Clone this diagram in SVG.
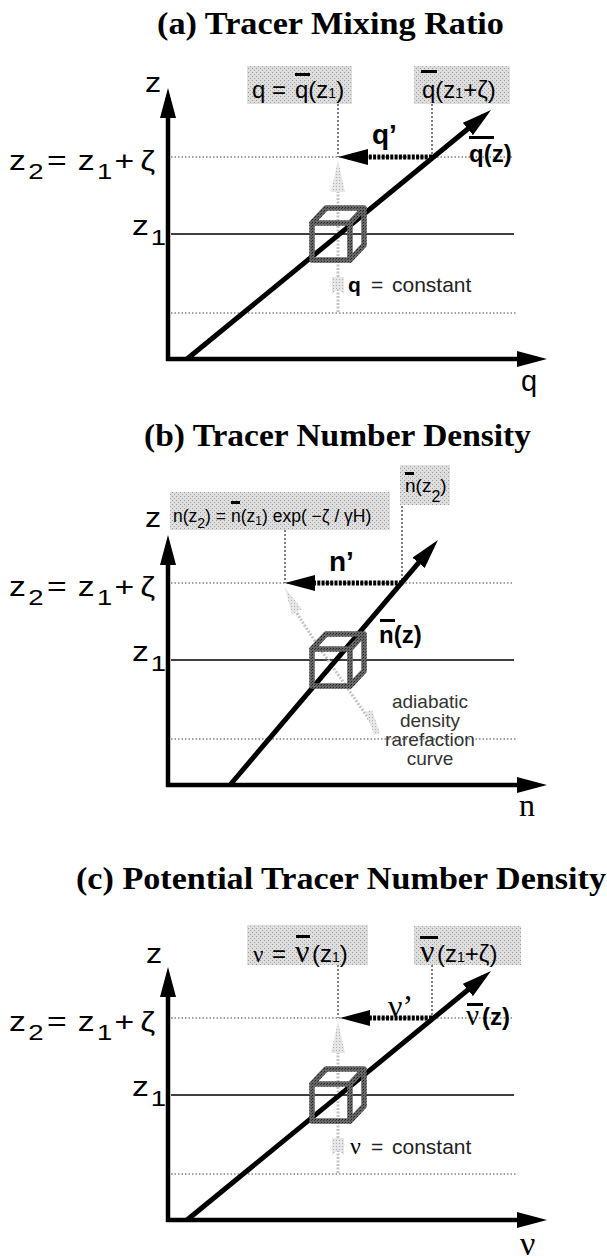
<svg xmlns="http://www.w3.org/2000/svg" width="607" height="1260" viewBox="0 0 607 1260">
<style>
.title{font-family:"Liberation Serif","Times New Roman",serif;font-weight:bold;font-size:31px;fill:#000}
.lab{font-family:"Liberation Sans",Arial,sans-serif;font-size:27px;fill:#000}
.sub{font-size:22px}
.bt{font-family:"Liberation Sans",Arial,sans-serif;font-size:24px;fill:#000}
.s14{font-size:14px}
.bts{font-family:"Liberation Sans",Arial,sans-serif;font-size:17.5px;fill:#000}
.bold{font-family:"Liberation Sans",Arial,sans-serif;font-weight:bold;fill:#000}
.gr{font-family:"Liberation Serif","Times New Roman",serif;fill:#000}
.note{font-family:"Liberation Sans",Arial,sans-serif;font-size:21px;fill:#222}
.ad{font-family:"Liberation Sans",Arial,sans-serif;font-size:19px;fill:#333;text-anchor:middle}
.box{fill:url(#stip)}
.axis{stroke:#000;stroke-width:4.5;fill:none}
.prof{stroke:#000;stroke-width:5;fill:none}
.dot{stroke:#444;stroke-width:1;stroke-dasharray:1.5 2;fill:none}
.vdot{stroke:#000;stroke-width:1;stroke-dasharray:2 2;fill:none}
.z1{stroke:#000;stroke-width:1.3}
.shaft{stroke:#000;stroke-width:5;stroke-dasharray:3 1.3;fill:none}
.cube{stroke:url(#cubeP);stroke-width:5.5;fill:none;stroke-linejoin:round;stroke-linecap:round}
.ghost{stroke:#c4c4c4;stroke-width:3;stroke-dasharray:2 1.5;fill:none}
.ghostf{fill:url(#light)}
.bar{fill:#000}
</style>
<defs>
<pattern id="stip" width="4" height="4" patternUnits="userSpaceOnUse">
<rect width="4" height="4" fill="#dedede"/>
<rect x="0" y="0" width="1" height="1" fill="#9a9a9a"/>
<rect x="2" y="2" width="1" height="1" fill="#a8a8a8"/>
</pattern>
<pattern id="light" width="3" height="3" patternUnits="userSpaceOnUse">
<rect width="3" height="3" fill="#e6e6e6"/>
<rect x="0" y="0" width="1" height="1" fill="#b0b0b0"/>
</pattern>
<pattern id="cubeP" width="3" height="3" patternUnits="userSpaceOnUse">
<rect width="3" height="3" fill="#666"/>
<rect x="0" y="0" width="1" height="1" fill="#222"/>
<rect x="2" y="1" width="1" height="1" fill="#3a3a3a"/>
</pattern>
<marker id="ah" markerUnits="userSpaceOnUse" markerWidth="30" markerHeight="16" viewBox="0 0 30 16" refX="20" refY="8" orient="auto">
<path d="M0,0 L30,8 L0,16 z" fill="#000"/>
</marker>
</defs>

<!-- ================= Panel (a) ================= -->
<g id="panel-a">
<text id="title-a" class="title" x="157" y="34" textLength="347" lengthAdjust="spacingAndGlyphs">(a) Tracer Mixing Ratio</text>
<g id="levels-a">
<line class="dot" x1="171" y1="157" x2="514" y2="157"/>
<line class="z1" x1="171" y1="234" x2="514" y2="234"/>
<line class="dot" x1="171" y1="313" x2="516" y2="313"/>
<line class="vdot" x1="338" y1="104" x2="338" y2="157"/>
<line class="vdot" x1="432" y1="104" x2="432" y2="157"/>
</g>
<g id="ghost-a">
<line class="ghost" x1="338" y1="312" x2="338" y2="178"/>
<polygon class="ghostf" points="338,160 331,192 345,192"/>
<polygon class="ghostf" points="332,277 344,277 344,294 338,289 332,294"/>
</g>
<g id="box-a1">
<rect class="box" x="247" y="66" width="105" height="38"/>
<text class="bt" y="98"><tspan x="252">q</tspan><tspan x="272">=</tspan><tspan x="295">q(z</tspan><tspan class="s14">1</tspan><tspan>)</tspan></text>
<rect class="bar" x="295" y="73" width="15" height="3"/>
</g>
<g id="box-a2">
<rect class="box" x="414" y="66" width="96" height="38"/>
<text class="bt" y="98"><tspan x="422">q(z</tspan><tspan class="s14">1</tspan><tspan>+ζ)</tspan></text>
<rect class="bar" x="421" y="70" width="16" height="3"/>
</g>
<g id="connectors-a">
<line class="axis" x1="168" y1="361" x2="168" y2="98" marker-end="url(#ah)"/>
<line class="axis" x1="166" y1="359" x2="537" y2="359" marker-end="url(#ah)"/>
<line class="prof" x1="187" y1="359" x2="483.3" y2="116.3" marker-end="url(#ah)"/>
<line class="shaft" x1="432" y1="157" x2="348" y2="157" marker-end="url(#ah)"/>
</g>
<g id="cube-a">
<path class="cube" d="M312,223 H350 V260 H312 Z M312,223 L326,208 H364 L350,223 M364,208 V245 L350,260"/>
</g>
<g id="labels-a">
<text class="lab" transform="translate(145,92) scale(1.2,1)">z</text>
<text class="lab" x="521" y="391" style="font-size:29px">q</text>
<text class="lab" transform="translate(9,170) scale(1.25,1)"><tspan x="0">z</tspan><tspan x="15.5" dy="9" class="sub">2</tspan><tspan x="30.5" dy="-9">=</tspan><tspan x="55">z</tspan><tspan x="70.5" dy="9" class="sub">1</tspan><tspan x="84.5" dy="-9">+</tspan><tspan x="105">ζ</tspan></text>
<text class="lab" transform="translate(132,235) scale(1.25,1)"><tspan x="0">z</tspan><tspan x="15" dy="10" class="sub">1</tspan></text>
<text class="bold" x="372" y="144" font-size="28">q’</text>
<text class="bold" x="469" y="162" font-size="24">q(z)</text>
<rect class="bar" x="469" y="136" width="25" height="3"/>
<text class="bold" x="348" y="292" font-size="21">q</text>
<text class="note" x="371" y="292">=</text>
<text class="note" x="392" y="292">constant</text>
</g>
</g>

<!-- ================= Panel (b) ================= -->
<g id="panel-b">
<text id="title-b" class="title" x="144" y="446" textLength="387" lengthAdjust="spacingAndGlyphs">(b) Tracer Number Density</text>
<g id="levels-b">
<line class="dot" x1="171" y1="583" x2="514" y2="583"/>
<line class="z1" x1="171" y1="660" x2="514" y2="660"/>
<line class="dot" x1="171" y1="739" x2="516" y2="739"/>
<line class="vdot" x1="285" y1="530" x2="285" y2="583"/>
<line class="vdot" x1="402" y1="466" x2="402" y2="583"/>
</g>
<g id="ghost-b">
<path class="ghost" d="M292,604 C305,630 350,690 378,733"/>
<polygon class="ghostf" points="285,588 302,609 292,615"/>
<polygon class="ghostf" points="366,712 372,710 380,733 374,735"/>
</g>
<g id="box-b1">
<rect class="box" x="170" y="492" width="220" height="38"/>
<text class="bts" y="522"><tspan x="173">n(z</tspan><tspan dy="6" style="font-size:14px">2</tspan><tspan dy="-6">) = </tspan><tspan x="231">n(z</tspan><tspan dy="3" style="font-size:12px">1</tspan><tspan dy="-3">) exp( −ζ / γH)</tspan></text>
<rect class="bar" x="231" y="501" width="9" height="3"/>
</g>
<g id="box-b2">
<rect class="box" x="400" y="465" width="50" height="40"/>
<text class="bts" y="492" style="font-size:19px"><tspan x="405">n(z</tspan><tspan dy="10" style="font-size:16px">2</tspan><tspan dy="-10">)</tspan></text>
<rect class="bar" x="405" y="472" width="9" height="3"/>
</g>
<g id="connectors-b">
<line class="axis" x1="168" y1="787" x2="168" y2="545" marker-end="url(#ah)"/>
<line class="axis" x1="166" y1="785" x2="537" y2="785" marker-end="url(#ah)"/>
<line class="prof" x1="230" y1="785" x2="431.5" y2="547.6" marker-end="url(#ah)"/>
<line class="shaft" x1="402" y1="583" x2="295" y2="583" marker-end="url(#ah)"/>
</g>
<g id="cube-b">
<path class="cube" d="M312,649 H350 V686 H312 Z M312,649 L326,634 H364 L350,649 M364,634 V671 L350,686"/>
</g>
<g id="labels-b">
<text class="lab" transform="translate(145,527) scale(1.2,1)">z</text>
<text class="gr" x="519" y="816" font-size="32">n</text>
<text class="lab" transform="translate(9,596) scale(1.25,1)"><tspan x="0">z</tspan><tspan x="15.5" dy="9" class="sub">2</tspan><tspan x="30.5" dy="-9">=</tspan><tspan x="55">z</tspan><tspan x="70.5" dy="9" class="sub">1</tspan><tspan x="84.5" dy="-9">+</tspan><tspan x="105">ζ</tspan></text>
<text class="lab" transform="translate(132,661) scale(1.25,1)"><tspan x="0">z</tspan><tspan x="15" dy="10" class="sub">1</tspan></text>
<text class="bold" x="329" y="571" font-size="28">n’</text>
<text class="bold" x="379" y="643" font-size="24">n(z)</text>
<rect class="bar" x="380" y="619" width="15" height="3"/>
<text class="ad" x="430" y="708">adiabatic</text>
<text class="ad" x="430" y="727">density</text>
<text class="ad" x="430" y="746">rarefaction</text>
<text class="ad" x="430" y="765">curve</text>
</g>
</g>

<!-- ================= Panel (c) ================= -->
<g id="panel-c">
<text id="title-c" class="title" x="76" y="889" textLength="530" lengthAdjust="spacingAndGlyphs">(c) Potential Tracer Number Density</text>
<g id="levels-c">
<line class="dot" x1="171" y1="1018" x2="514" y2="1018"/>
<line class="z1" x1="171" y1="1095" x2="514" y2="1095"/>
<line class="dot" x1="171" y1="1174" x2="516" y2="1174"/>
<line class="vdot" x1="338" y1="965" x2="338" y2="1018"/>
<line class="vdot" x1="432" y1="965" x2="432" y2="1018"/>
</g>
<g id="ghost-c">
<line class="ghost" x1="338" y1="1173" x2="338" y2="1039"/>
<polygon class="ghostf" points="338,1021 331,1053 345,1053"/>
<polygon class="ghostf" points="332,1138 344,1138 344,1155 338,1150 332,1155"/>
</g>
<g id="box-c1">
<rect class="box" x="247" y="925" width="121" height="40"/>
<text class="gr" x="253" y="962" style="font-size:23px">ν</text>
<text class="bt" x="272" y="962">=</text>
<text class="gr" x="295" y="962" style="font-size:32px">ν</text>
<text class="bt" x="312" y="962">(z<tspan class="s14">1</tspan>)</text>
<rect class="bar" x="296" y="935" width="14" height="3"/>
</g>
<g id="box-c2">
<rect class="box" x="414" y="926" width="107" height="39"/>
<text class="gr" x="420" y="962" style="font-size:32px">ν</text>
<text class="bt" x="437" y="962">(z<tspan class="s14">1</tspan>+ζ)</text>
<rect class="bar" x="420" y="936" width="18" height="3"/>
</g>
<g id="connectors-c">
<line class="axis" x1="168" y1="1222" x2="168" y2="977" marker-end="url(#ah)"/>
<line class="axis" x1="166" y1="1220" x2="537" y2="1220" marker-end="url(#ah)"/>
<line class="prof" x1="187" y1="1220" x2="483.3" y2="977.3" marker-end="url(#ah)"/>
<line class="shaft" x1="432" y1="1018" x2="350" y2="1018" marker-end="url(#ah)"/>
</g>
<g id="cube-c">
<path class="cube" d="M312,1084 H350 V1121 H312 Z M312,1084 L326,1069 H364 L350,1084 M364,1069 V1106 L350,1121"/>
</g>
<g id="labels-c">
<text class="lab" transform="translate(146,963) scale(1.2,1)">z</text>
<text class="gr" x="520" y="1255" style="font-size:34px">ν</text>
<text class="lab" transform="translate(9,1031) scale(1.25,1)"><tspan x="0">z</tspan><tspan x="15.5" dy="9" class="sub">2</tspan><tspan x="30.5" dy="-9">=</tspan><tspan x="55">z</tspan><tspan x="70.5" dy="9" class="sub">1</tspan><tspan x="84.5" dy="-9">+</tspan><tspan x="105">ζ</tspan></text>
<text class="lab" transform="translate(132,1096) scale(1.25,1)"><tspan x="0">z</tspan><tspan x="15" dy="10" class="sub">1</tspan></text>
<text class="gr" x="388" y="1017" style="font-size:32px">ν’</text>
<text class="gr" x="466" y="1025" style="font-size:29px">ν</text>
<text class="bold" x="482" y="1025" font-size="24">(z)</text>
<rect class="bar" x="467" y="1003" width="16" height="3"/>
<text class="gr" x="350" y="1154" style="font-size:24px">ν</text>
<text class="note" x="371" y="1154">=</text>
<text class="note" x="392" y="1154">constant</text>
</g>
</g>
</svg>
